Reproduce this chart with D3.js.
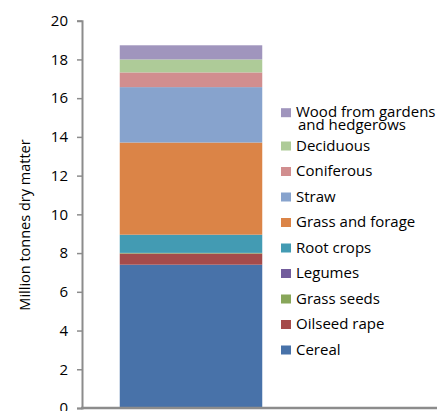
<!DOCTYPE html>
<html>
<head>
<meta charset="utf-8">
<script src="https://cdn.jsdelivr.net/npm/d3@7"></script>
<style>
  html, body { margin: 0; padding: 0; background: #fff; }
  svg { display: block; }
  text { font-family: "Open Sans", sans-serif; fill: #000; }
</style>
</head>
<body>
<script>
// ---- data ----
const categories = ["Total"];
const seriesNames = ["Cereal", "Oilseed rape", "Grass seeds", "Legumes", "Root crops",
  "Grass and forage", "Straw", "Coniferous", "Deciduous", "Wood from gardens and hedgerows"];
const seriesValues = [7.40, 0.57, 0.03, 0.01, 0.94, 4.76, 2.86, 0.76, 0.67, 0.73];
const seriesColors = ["#4872a9", "#a54b4b", "#88a65a", "#725c9c", "#439bb3",
  "#db8447", "#87a3cd", "#d18e8f", "#aecb98", "#a095bd"];
const yTicks = [0, 2, 4, 6, 8, 10, 12, 14, 16, 18, 20];
const yTitle = "Million tonnes dry matter";

// ---- layout ----
const W = 437, H = 411;
const svg = d3.select("body").append("svg").attr("width", W).attr("height", H);

const y = d3.scaleLinear().domain([0, 20]).range([408, 20.7]);
const x = d3.scaleBand().domain(categories).range([83, 299]).paddingInner(0.205).paddingOuter(0.205);

// stacked data
const row = { cat: categories[0] };
seriesNames.forEach((n, i) => row[n] = seriesValues[i]);
const stack = d3.stack().keys(seriesNames)([row]);

svg.append("g").selectAll("rect").data(stack).join("rect")
  .attr("x", x(categories[0]))
  .attr("width", x.bandwidth())
  .attr("y", d => y(d[0][1]))
  .attr("height", d => y(d[0][0]) - y(d[0][1]))
  .attr("fill", (d, i) => seriesColors[i]);

// y axis
const yAxis = d3.axisLeft(y).tickValues(yTicks).tickSize(5).tickPadding(9).tickFormat(d3.format("d"));
const gy = svg.append("g").attr("transform", "translate(82,0)").call(yAxis);
gy.select(".domain").attr("stroke", "#8c8c8c").attr("stroke-width", 2);
gy.selectAll(".tick line").attr("stroke", "#8c8c8c").attr("stroke-width", 1.5);
gy.selectAll(".tick text").attr("font-size", 15).attr("font-family", "Open Sans, sans-serif").attr("fill", "#000");

// x axis baseline
const gx = svg.append("g").attr("transform", `translate(0,${y(0)})`);
gx.append("line").attr("x1", 81).attr("x2", W).attr("y1", 0).attr("y2", 0)
  .attr("stroke", "#8c8c8c").attr("stroke-width", 2.5);

// y title
svg.append("text")
  .attr("transform", "translate(30,225) rotate(-90)")
  .attr("text-anchor", "middle")
  .attr("font-size", 14.5)
  .text(yTitle);

// legend (reverse order, top = last series)
const legendItems = seriesNames.map((n, i) => ({ name: n, color: seriesColors[i] })).reverse();
const legendY = [112.7, 146, 171.5, 197, 222.5, 248, 273.5, 299, 324.5, 350];
const lg = svg.append("g");
legendItems.forEach((d, i) => {
  const cy = legendY[i];
  lg.append("rect").attr("x", 281).attr("y", cy - 4.5).attr("width", 10).attr("height", 9).attr("fill", d.color);
  const t = lg.append("text").attr("x", 296).attr("y", cy - 0.5).attr("dy", "0.35em").attr("font-size", 15);
  if (d.name === "Wood from gardens and hedgerows") {
    t.text("Wood from gardens");
    lg.append("text").attr("x", 298).attr("y", cy + 12.5).attr("dy", "0.35em").attr("font-size", 15).text("and hedgerows");
  } else {
    t.text(d.name);
  }
});
</script>
</body>
</html>
